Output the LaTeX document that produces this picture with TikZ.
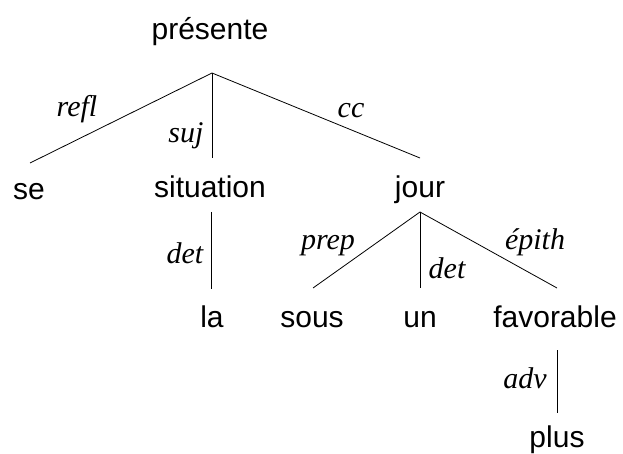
\documentclass[tikz,border=0pt]{standalone}
\usepackage{fontspec}
\setmainfont{Liberation Serif}
\setsansfont{Liberation Sans}
\usetikzlibrary{positioning}

\begin{document}
\begin{tikzpicture}[x=1pt, y=-1pt]
        \tikzstyle{every node}=[inner sep=0pt, anchor=base]
        \tikzstyle{word}=[font=\sffamily\fontsize{30}{36}\selectfont]
        \tikzstyle{rel}=[font=\itshape\fontsize{30}{36}\selectfont]
        \tikzstyle{edge}=[line width=0.8pt]

        \useasboundingbox (0,0) rectangle (623,454);

        % words
        \node[word]   (0)    at (210,40)  {présente};
        \node[word]   (1)    at (29,200)  {se};
        \node[word]   (2)    at (210,198) {situation};
        \node[word]   (3)    at (420,198) {jour};
        \node[word]   (4)    at (212,327) {la};
        \node[word]   (5)    at (312,327) {sous};
        \node[word]   (6)    at (420,327) {un};
        \node[word]   (7)    at (555,327) {favorable};
        \node[word]   (8)    at (557,447) {plus};

        % relations
        \node[rel]    (r1)   at (77,117)  {refl};
        \node[rel]    (r2)   at (186,143) {suj};
        \node[rel]    (r3)   at (351,118) {cc};
        \node[rel]    (r4)   at (185,263) {det};
        \node[rel]    (r5)   at (328,250) {prep};
        \node[rel]    (r6)   at (447,278) {det};
        \node[rel]    (r7)   at (535,250) {épith};
        \node[rel]    (r8)   at (525,388) {adv};

        % dependencies
        \draw[edge] ([xshift=2pt, yshift=-33pt]0.base) -- ([xshift=1pt, yshift=37pt]1.base);
        \draw[edge] ([xshift=2pt, yshift=-33pt]0.base) -- ([xshift=2pt, yshift=40pt]2.base);
        \draw[edge] ([xshift=2pt, yshift=-33pt]0.base) -- ([yshift=40pt]3.base);
        \draw[edge] ([xshift=1pt, yshift=-14pt]2.base) -- ([xshift=-1pt, yshift=38pt]4.base);
        \draw[edge] ([yshift=-14pt]3.base) -- ([xshift=1pt, yshift=39pt]5.base);
        \draw[edge] ([yshift=-14pt]3.base) -- ([yshift=39pt]6.base);
        \draw[edge] ([yshift=-14pt]3.base) -- ([xshift=2pt, yshift=39pt]7.base);
        \draw[edge] ([xshift=2pt, yshift=-23pt]7.base) -- ([yshift=34pt]8.base);

\end{tikzpicture}
\end{document}
